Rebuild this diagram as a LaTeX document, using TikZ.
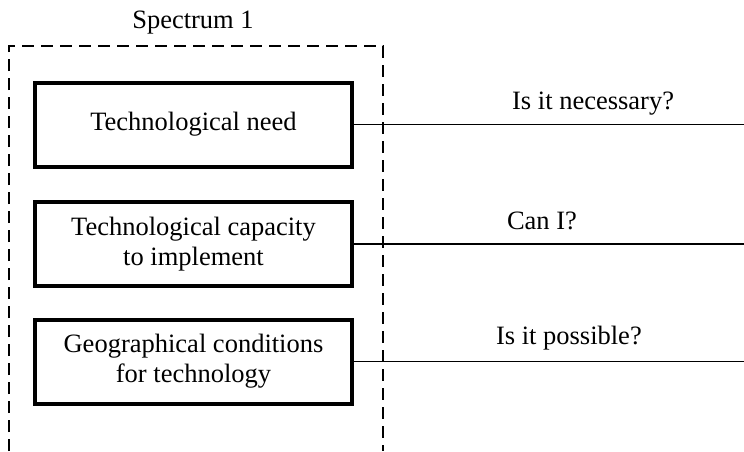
\documentclass[tikz,border=0pt]{standalone}
\usepackage{fontspec}
\setmainfont{Liberation Serif}
\usepackage{tikz}
\usetikzlibrary{positioning,calc}
\tikzset{
  factor/.style={draw,line width=4pt,minimum width=317pt,minimum height=84pt,align=center,inner sep=0pt},
  question/.style={font=\fontsize{26.5}{30}\selectfont},
  link/.style={line width=1.3pt}
}
\begin{document}
\begin{tikzpicture}[x=1pt,y=-1pt,font=\fontsize{26.5}{30}\selectfont]
  \useasboundingbox (0,0) rectangle (744,451);
  % spectrum frame, open at the bottom
  \node (title) at (193,23) {Spectrum 1};
  \coordinate (fl) at (9,451);
  \coordinate (fr) at (383,451);
  \draw[dashed,line width=2pt,dash pattern=on 12pt off 7pt] (fl) |- (383,46) -- (fr);
  % the three factors
  \node[factor] (need) at (193.5,124.5) {Technological need};
  \node[factor] (capacity) at (193.5,244) {Technological capacity\\to implement};
  \node[factor] (geo) at (193.5,361.5) {Geographical conditions\\for technology};
  % questions
  \coordinate (q1) at (744,124.5);
  \coordinate (q2) at (744,244);
  \coordinate (q3) at (744,361.5);
  \draw[link] (need.east) -- (q1) node[question,pos=0.613,yshift=21pt] (necessary) {Is it necessary?};
  \draw[link] (capacity.east) -- (q2) node[question,pos=0.482,yshift=23pt] (cani) {Can I?};
  \draw[link] (geo.east) -- (q3) node[question,pos=0.551,yshift=23pt] (possible) {Is it possible?};
\end{tikzpicture}
\end{document}
